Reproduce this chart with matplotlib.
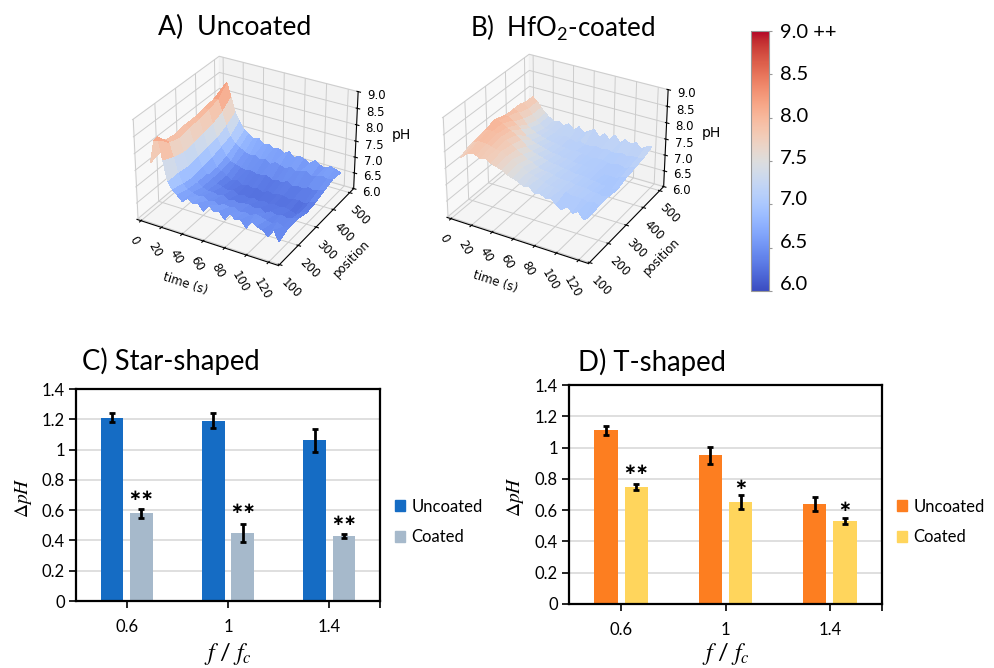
import numpy as np
import matplotlib
matplotlib.use('Agg')
import matplotlib.pyplot as plt
from matplotlib.cm import ScalarMappable
from matplotlib.colors import Normalize
from matplotlib.patches import Patch

plt.rcParams['font.family'] = ['Lato', 'DejaVu Sans']
plt.rcParams['mathtext.default'] = 'regular'

# surface data, rows are position, columns are time
time_s = [0, 4, 8, 12, 16, 20, 25, 30, 35, 40, 45, 50, 55, 60, 65, 70, 75, 80, 85, 90, 95, 100, 105, 110, 115, 120]
position = [150, 200, 250, 300, 350, 400, 450, 500]

ph_uncoated = [
    [7.5, 8.2, 8.35, 7.7, 7.1, 6.9, 6.75, 6.6, 6.75, 6.65, 6.7, 6.5, 6.75, 6.6, 6.65, 6.45, 6.7, 6.55, 6.6, 6.4, 6.65, 6.55, 6.5, 6.35, 6.6, 6.3],
    [7.6, 7.95, 7.95, 7.55, 7.1, 6.8, 6.65, 6.6, 6.55, 6.6, 6.5, 6.55, 6.45, 6.55, 6.5, 6.55, 6.45, 6.5, 6.45, 6.55, 6.5, 6.45, 6.4, 6.5, 6.4, 6.45],
    [7.6, 7.9, 7.85, 7.45, 7.05, 6.75, 6.6, 6.5, 6.45, 6.45, 6.4, 6.45, 6.35, 6.4, 6.35, 6.4, 6.4, 6.35, 6.4, 6.3, 6.4, 6.35, 6.4, 6.35, 6.4, 6.45],
    [7.6, 7.95, 7.9, 7.5, 7.1, 6.8, 6.6, 6.5, 6.4, 6.35, 6.3, 6.35, 6.25, 6.3, 6.25, 6.3, 6.25, 6.3, 6.25, 6.3, 6.25, 6.3, 6.25, 6.2, 6.3, 6.35],
    [7.6, 7.95, 7.95, 7.55, 7.15, 6.85, 6.6, 6.5, 6.4, 6.3, 6.35, 6.25, 6.3, 6.25, 6.3, 6.2, 6.3, 6.25, 6.3, 6.3, 6.25, 6.3, 6.3, 6.25, 6.35, 6.4],
    [7.65, 8.0, 8.0, 7.6, 7.2, 6.95, 6.7, 6.55, 6.5, 6.45, 6.4, 6.45, 6.4, 6.4, 6.45, 6.35, 6.4, 6.35, 6.45, 6.35, 6.4, 6.35, 6.45, 6.4, 6.45, 6.5],
    [7.7, 8.05, 8.1, 7.75, 7.35, 7.05, 6.85, 6.75, 6.65, 6.6, 6.65, 6.55, 6.6, 6.5, 6.6, 6.55, 6.5, 6.6, 6.5, 6.55, 6.6, 6.5, 6.55, 6.6, 6.55, 6.6],
    [7.6, 8.2, 8.4, 8.0, 7.55, 7.3, 7.05, 6.95, 6.85, 6.9, 6.75, 6.8, 6.7, 6.75, 6.65, 6.75, 6.6, 6.7, 6.65, 6.55, 6.7, 6.6, 6.55, 6.65, 6.6, 6.55],
]

ph_coated = [
    [7.6, 7.7, 7.8, 7.85, 7.8, 7.75, 7.8, 7.7, 7.65, 7.6, 7.5, 7.45, 7.4, 7.3, 7.35, 7.2, 7.25, 7.15, 7.2, 7.05, 6.95, 7.1, 6.95, 7.05, 6.85, 7.0],
    [7.75, 7.85, 7.9, 7.9, 7.9, 7.85, 7.8, 7.8, 7.7, 7.65, 7.55, 7.5, 7.4, 7.35, 7.3, 7.25, 7.2, 7.2, 7.15, 7.15, 7.1, 7.1, 7.1, 7.05, 7.1, 7.05],
    [7.8, 7.95, 8.0, 8.0, 7.95, 7.9, 7.85, 7.75, 7.65, 7.55, 7.45, 7.4, 7.3, 7.25, 7.25, 7.2, 7.15, 7.15, 7.15, 7.1, 7.1, 7.1, 7.05, 7.05, 7.0, 7.05],
    [7.8, 8.05, 8.05, 8.0, 7.9, 7.85, 7.75, 7.65, 7.5, 7.4, 7.35, 7.3, 7.25, 7.2, 7.2, 7.15, 7.15, 7.1, 7.1, 7.1, 7.05, 7.05, 7.0, 7.0, 6.95, 7.0],
    [7.8, 7.95, 7.95, 7.85, 7.75, 7.65, 7.5, 7.4, 7.35, 7.3, 7.25, 7.2, 7.2, 7.15, 7.15, 7.1, 7.1, 7.1, 7.05, 7.05, 7.05, 7.0, 7.0, 7.0, 7.05, 7.1],
    [7.8, 7.9, 7.85, 7.7, 7.55, 7.45, 7.35, 7.3, 7.25, 7.2, 7.2, 7.15, 7.15, 7.1, 7.15, 7.1, 7.1, 7.05, 7.1, 7.1, 7.05, 7.05, 7.1, 7.05, 7.1, 7.15],
    [7.8, 7.85, 7.75, 7.6, 7.45, 7.35, 7.25, 7.25, 7.2, 7.15, 7.2, 7.15, 7.1, 7.15, 7.1, 7.1, 7.15, 7.1, 7.15, 7.1, 7.1, 7.15, 7.1, 7.15, 7.15, 7.2],
    [7.7, 7.85, 7.75, 7.6, 7.45, 7.35, 7.25, 7.3, 7.2, 7.3, 7.15, 7.3, 7.15, 7.25, 7.35, 7.15, 7.3, 7.15, 7.35, 7.15, 7.3, 7.2, 7.3, 7.15, 7.25, 7.3],
]

# bar data
freq = ['0.6', '1', '1.4']
star_uncoated = [1.21, 1.19, 1.06]
star_uncoated_err = [0.03, 0.05, 0.075]
star_coated = [0.58, 0.45, 0.43]
star_coated_err = [0.03, 0.06, 0.015]
star_marks = ['∗∗', '∗∗', '∗∗']
star_mark_y = [0.695, 0.614, 0.533]

t_uncoated = [1.11, 0.95, 0.64]
t_uncoated_err = [0.03, 0.055, 0.045]
t_coated = [0.75, 0.65, 0.53]
t_coated_err = [0.02, 0.045, 0.02]
t_marks = ['∗∗', '∗', '∗']
t_mark_y = [0.862, 0.766, 0.623]

cbar_ticks = [6, 6.5, 7, 7.5, 8, 8.5, 9]
cbar_labels = ['6.0', '6.5', '7.0', '7.5', '8.0', '8.5', '9.0 ++']
cbar_label_y = [6.08, 6.56, 7.06, 7.53, 8.01, 8.5, 8.98]

W, H = 994, 668
fig = plt.figure(figsize=(W / 100, H / 100), dpi=100)
norm = Normalize(6, 9)


def box(left, top, right, bottom):
    return [left / W, 1 - bottom / H, (right - left) / W, (bottom - top) / H]


def surface_panel(rect, z):
    ax = fig.add_axes(rect, projection='3d')
    ax.patch.set_visible(False)
    ax.set_box_aspect((4, 4, 2.8))
    X, Y = np.meshgrid(time_s, position)
    ax.plot_surface(X, Y, np.array(z), cmap='coolwarm', norm=norm, rstride=1, cstride=1,
                    linewidth=0, antialiased=False, shade=False)
    ax.set_xlim(-4, 129)
    ax.set_ylim(95, 525)
    ax.set_zlim(6, 9)
    ax.set_xticks(range(0, 121, 20))
    ax.set_yticks(range(100, 501, 100))
    ax.set_zticks(np.arange(6, 9.1, 0.5))
    ax.tick_params(axis='x', labelsize=8.5, pad=-1, labelrotation=-60)
    ax.tick_params(axis='y', labelsize=8.5, pad=-1, labelrotation=-45)
    ax.tick_params(axis='z', labelsize=8.5, pad=0)
    for lab in ax.get_xticklabels() + ax.get_yticklabels() + ax.get_zticklabels():
        lab.set_fontfamily('DejaVu Sans')
    ax.set_xlabel('time (s)', fontsize=8.5, labelpad=1, rotation=-18, family='DejaVu Sans')
    ax.set_ylabel('position', fontsize=8.5, labelpad=1, rotation=45, family='DejaVu Sans')
    ax.zaxis.set_rotate_label(False)
    ax.set_zlabel('pH', fontsize=10, labelpad=-1, rotation=0, family='DejaVu Sans')
    for axis in (ax.xaxis, ax.yaxis, ax.zaxis):
        axis._axinfo['grid']['color'] = (0.8, 0.8, 0.8, 1)
        axis._axinfo['grid']['linewidth'] = 0.7
    return ax


surface_panel(box(120, 35, 368, 283), ph_uncoated)
surface_panel(box(430, 33, 678, 281), ph_coated)

fig.text(158 / W, 1 - 27 / H, 'A)  Uncoated', fontsize=19.2, va='center')
fig.text(470 / W, 1 - 28 / H, 'B)  HfO$_2$-coated', fontsize=18.6, va='center')

# colorbar
cax = fig.add_axes(box(751, 31, 769, 291))
cb = fig.colorbar(ScalarMappable(norm=norm, cmap='coolwarm'), cax=cax)
cb.set_ticks(cbar_ticks)
cb.set_ticklabels([])
cb.outline.set_edgecolor('#999999')
cax.tick_params(length=2, color='#999999')
for lab, y in zip(cbar_labels, cbar_label_y):
    cax.text(1.6, y, lab, fontsize=14.5, va='center', ha='left', clip_on=False)


def bar_panel(rect, title, title_xy, up, up_err, co, co_err, marks, mark_y, c1, c2, leg_xy, ylab_x, xlab_y):
    ax = fig.add_axes(rect)
    x = np.arange(len(freq))
    off, w = 0.145, 0.225
    ax.set_axisbelow(True)
    ax.grid(axis='y', color='#d9d9d9', lw=1.2)
    ebar = dict(ecolor='black', elinewidth=2, capsize=2.5, capthick=2)
    ax.bar(x - off, up, w, color=c1, yerr=up_err, error_kw=ebar, label='Uncoated')
    ax.bar(x + off, co, w, color=c2, yerr=co_err, error_kw=ebar, label='Coated')
    for i, (m, y) in enumerate(zip(marks, mark_y)):
        ax.text(i + off, y, m, fontsize=11, ha='center', va='center', family=['DejaVu Sans'], weight='bold')
    ax.set_xlim(-0.5, 2.5)
    ax.set_ylim(0, 1.4)
    ax.set_yticks(np.arange(0, 1.41, 0.2), ['0', '0.2', '0.4', '0.6', '0.8', '1', '1.2', '1.4'])
    ax.set_xticks([0, 1, 2, 2.5], freq + [''])
    ax.tick_params(axis='both', labelsize=12, width=1.2, length=5, pad=8)
    ax.tick_params(axis='y', pad=3)
    for s in ax.spines.values():
        s.set_linewidth(1.6)
    fig.text(title_xy[0] / W, 1 - title_xy[1] / H, title, fontsize=19.8, va='center')
    fig.text(ylab_x / W, (rect[1] + rect[3] * 0.49), r'$\mathit{\Delta pH}$', fontsize=14, rotation=90,
             va='center', ha='center', math_fontfamily='stix')
    fig.text((rect[0] + rect[2] * 0.5), 1 - xlab_y / H, r'$\mathit{f}\ /\ \mathit{f_c}$', fontsize=17,
             va='center', ha='center', math_fontfamily='stix')
    handles = [Patch(color=c1, label='Uncoated'), Patch(color=c2, label='Coated')]
    fig.legend(handles=handles, loc='center left', bbox_to_anchor=(leg_xy[0] / W, 1 - leg_xy[1] / H), frameon=False,
               fontsize=12, handlelength=0.6, handleheight=0.6, handletextpad=0.4, labelspacing=0.9, borderpad=0,
               borderaxespad=0)
    return ax


bar_panel(box(76, 389, 380, 601), 'C) Star-shaped', (82, 361), star_uncoated, star_uncoated_err,
          star_coated, star_coated_err, star_marks, star_mark_y, '#156CC4', '#A6B9CB', (395, 522), 23, 654)
bar_panel(box(569, 385, 882, 604), 'D) T-shaped', (578, 362), t_uncoated, t_uncoated_err,
          t_coated, t_coated_err, t_marks, t_mark_y, '#FD7E20', '#FFD55C', (897, 522), 515, 654)

fig.savefig('out.png', dpi=100)
